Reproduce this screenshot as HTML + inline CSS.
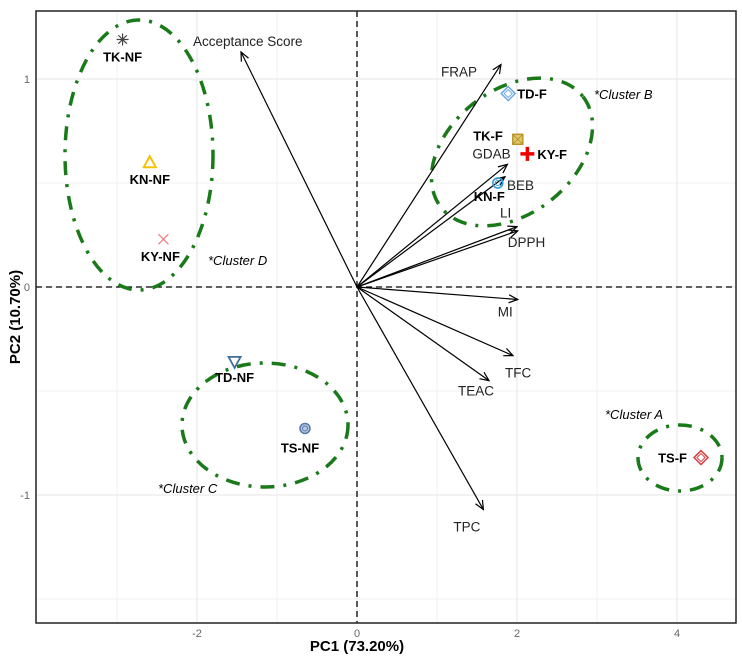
<!DOCTYPE html>
<html><head><meta charset="utf-8"><style>
body{margin:0;background:#fff;font-family:"Liberation Sans",sans-serif}
</style></head><body>
<svg id="c" width="742" height="654" xmlns="http://www.w3.org/2000/svg"></svg>
<script>
const sampleNames=["TK-NF","KN-NF","KY-NF","TD-NF","TS-NF","TS-F","TD-F","TK-F","KY-F","KN-F"];
const samplePC1=[-2.93,-2.59,-2.42,-1.53,-0.65,4.3,1.89,2.01,2.13,1.76];
const samplePC2=[1.19,0.6,0.23,-0.36,-0.68,-0.82,0.93,0.71,0.64,0.5];
const varNames=["Acceptance Score","FRAP","GDAB","BEB","LI","DPPH","MI","TFC","TEAC","TPC"];
const varPC1=[-1.45,1.8,1.88,1.85,2.0,2.01,2.01,1.95,1.65,1.58];
const varPC2=[1.13,1.07,0.59,0.53,0.29,0.27,-0.06,-0.33,-0.45,-1.07];
const xTicks=[-2,0,2,4], yTicks=[-1,0,1];
const X=v=>357+v*80, Y=v=>287-v*208;
const svg=document.getElementById('c');const NS="http://www.w3.org/2000/svg";
function mk(t,a,p){const e=document.createElementNS(NS,t);for(const k in a)e.setAttribute(k,a[k]);(p||svg).appendChild(e);return e;}
[-3,-1,1,3].forEach(v=>{const l=mk('line',{x1:X(v),x2:X(v),y1:11,y2:623,stroke:'#f2f2f2'});});
[-1.5,-0.5,0.5].forEach(v=>{const l=mk('line',{x1:36,x2:736,y1:Y(v),y2:Y(v),stroke:'#f2f2f2'});});
xTicks.forEach(v=>{const l=mk('line',{x1:X(v),x2:X(v),y1:11,y2:623,stroke:'#e6e6e6'});
 const t=mk('text',{x:X(v),y:637,'font-size':11,fill:'#666','text-anchor':'middle'});t.textContent=v;});
yTicks.forEach(v=>{const l=mk('line',{x1:36,x2:736,y1:Y(v),y2:Y(v),stroke:'#e6e6e6'});
 const t=mk('text',{x:30,y:Y(v)+4,'font-size':11,fill:'#666','text-anchor':'end'});t.textContent=v;});
let z=mk('line',{x1:X(0),x2:X(0),y1:11,y2:623,stroke:'#000','stroke-dasharray':'6,4','stroke-width':1.3});
z=mk('line',{x1:36,x2:736,y1:Y(0),y2:Y(0),stroke:'#000','stroke-dasharray':'6,4','stroke-width':1.3});
const ell=[[139,155,74,135,0,'cluster-d-ellipse'],[512,152,90,62,-38,'cluster-b-ellipse'],[265,425,83,62,0,'cluster-c-ellipse'],[680,458,42,33,0,'cluster-a-ellipse']];
ell.forEach(e=>{const el=mk('ellipse',{cx:e[0],cy:e[1],rx:e[2],ry:e[3],transform:`rotate(${e[4]} ${e[0]} ${e[1]})`,fill:'none',stroke:'#1a7a1a','stroke-width':3.5,'stroke-dasharray':'14,9,3,9'});});
const cl=[[208,265,'*Cluster D'],[594,99,'*Cluster B'],[158,493,'*Cluster C'],[605,419,'*Cluster A']];
cl.forEach(c=>{const t=mk('text',{x:c[0],y:c[1],'font-size':13,'font-style':'italic'});t.textContent=c[2];});
const defs=mk('defs',{});const m=mk('marker',{id:'ah',markerWidth:10,markerHeight:10,refX:9,refY:5,orient:'auto',markerUnits:'userSpaceOnUse'},defs);
mk('path',{d:'M0,1 L9,5 L0,9',fill:'none',stroke:'#000','stroke-width':1.2},m);
const lblOff={"Acceptance Score":[0,-6,'start',-48],"FRAP":[-60,12],"GDAB":[-35,-6],"BEB":[2,13],"LI":[-17,-9],"DPPH":[-10,16],"MI":[-20,17],"TFC":[-8,22],"TEAC":[-31,15],"TPC":[-30,22]};
varNames.forEach((n,i)=>{const a=mk('line',{x1:X(0),y1:Y(0),x2:X(varPC1[i]),y2:Y(varPC2[i]),stroke:'#000','stroke-width':1.2,'marker-end':'url(#ah)'});
 const o=lblOff[n];let tx=X(varPC1[i])+o[0],ty=Y(varPC2[i])+o[1];if(o[3])tx=X(varPC1[i])+o[3];
 const t=mk('text',{x:tx,y:ty,'font-size':13.5,fill:'#222'});t.textContent=n;});
const cols=['#444','#f2c200','#f08080','#3a6f9a','#5577aa','#d94040','#6fa8e8','#b8952a','#e00','#2b9be0'];
const lo=[[0,22,'middle'],[0,22,'middle'],[-3,22,'middle'],[0,20,'middle'],[-5,24,'middle'],[-14,5,'end'],[9,5,'start'],[-15,1,'end'],[10,5,'start'],[7,18,'end']];
sampleNames.forEach((n,i)=>{const x=X(samplePC1[i]),y=Y(samplePC2[i]);const g=mk('g',{});
 const c=cols[i];
 if(i==0){for(let a=0;a<4;a++){const r=a*Math.PI/4;mk('line',{x1:x-6*Math.cos(r),y1:y-6*Math.sin(r),x2:x+6*Math.cos(r),y2:y+6*Math.sin(r),stroke:c,'stroke-width':1.2},g);}}
 else if(i==1){mk('path',{d:`M${x},${y-6}L${x+6},${y+5}L${x-6},${y+5}Z`,fill:'none',stroke:c,'stroke-width':2},g);}
 else if(i==2){mk('path',{d:`M${x-5},${y-5}L${x+5},${y+5}M${x+5},${y-5}L${x-5},${y+5}`,stroke:c,'stroke-width':1.3},g);}
 else if(i==3){mk('path',{d:`M${x-6},${y-5}L${x+6},${y-5}L${x},${y+6}Z`,fill:'none',stroke:c,'stroke-width':1.8},g);}
 else if(i==8){mk('path',{d:`M${x-7},${y}L${x+7},${y}M${x},${y-7}L${x},${y+7}`,stroke:c,'stroke-width':3.5},g);}
 else if(i==7){mk('rect',{x:x-5,y:y-5,width:10,height:10,fill:'#e0c870',stroke:c,'stroke-width':1.5},g);mk('path',{d:`M${x-5},${y-5}L${x+5},${y+5}M${x+5},${y-5}L${x-5},${y+5}`,stroke:c},g);}
 else if(i==6||i==5){mk('path',{d:`M${x},${y-7}L${x+7},${y}L${x},${y+7}L${x-7},${y}Z`,fill:'none',stroke:c,'stroke-width':1.5},g);mk('path',{d:`M${x},${y-4}L${x+4},${y}L${x},${y+4}L${x-4},${y}Z`,fill:'none',stroke:c},g);}
 else {mk('circle',{cx:x,cy:y,r:5,fill:i==9?'none':'#b8c8e0',stroke:c,'stroke-width':1.5},g);mk('circle',{cx:x,cy:y,r:2.5,fill:'none',stroke:c},g);}
 const t=mk('text',{x:x+lo[i][0],y:y+lo[i][1],'font-size':13,'font-weight':'bold','text-anchor':lo[i][2]});t.textContent=n;});
let f=mk('rect',{x:36,y:11,width:700,height:612,fill:'none',stroke:'#222','stroke-width':1.5});
let t=mk('text',{x:357,y:651,'font-size':15,'font-weight':'bold','text-anchor':'middle'});t.textContent='PC1 (73.20%)';
t=mk('text',{x:0,y:0,'font-size':15,'font-weight':'bold','text-anchor':'middle',transform:'translate(20,317) rotate(-90)'});t.textContent='PC2 (10.70%)';
</script>
</body></html>
